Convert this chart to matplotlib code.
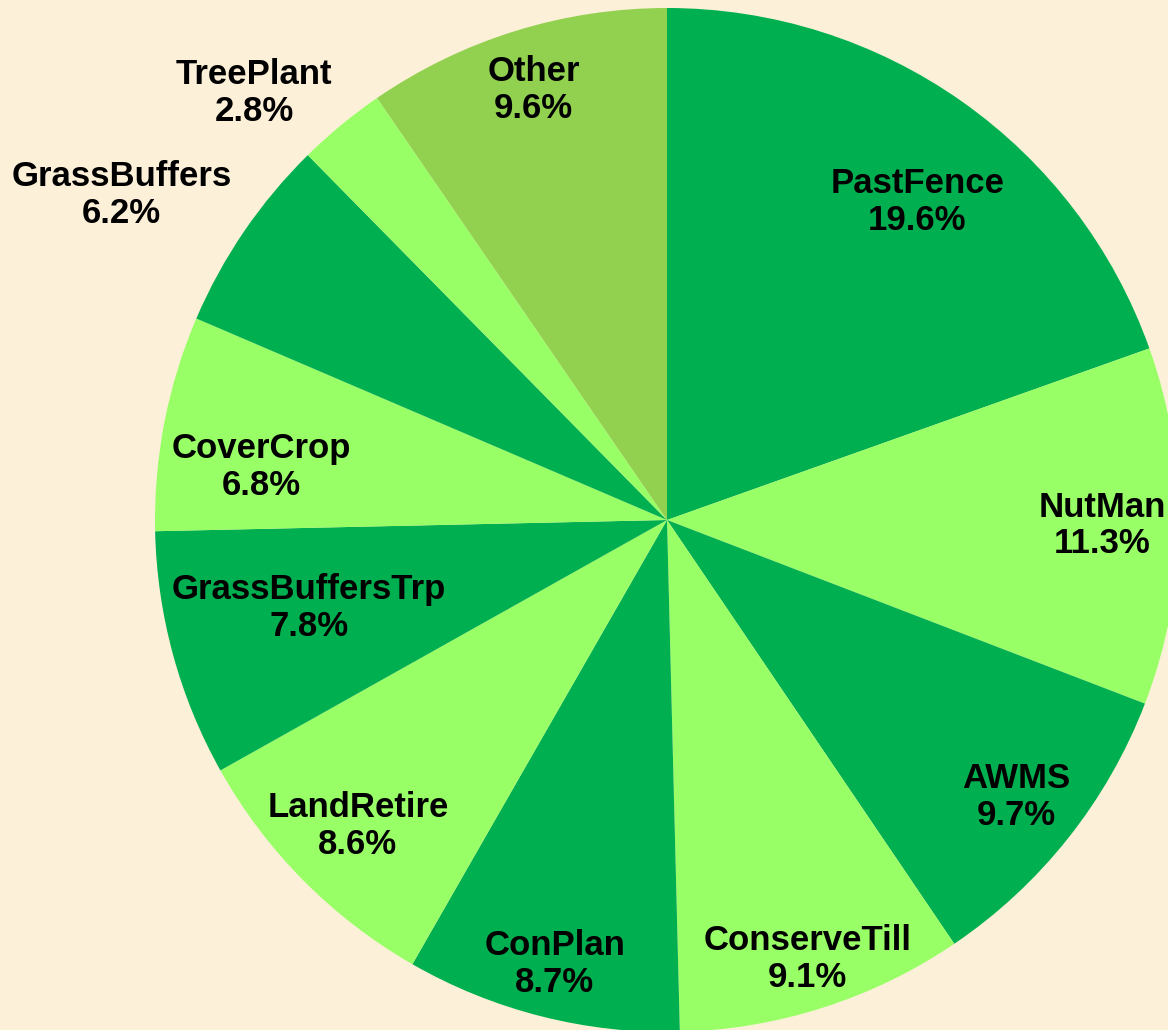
import numpy as np
import matplotlib.pyplot as plt

practices = ['PastFence', 'NutMan', 'AWMS', 'ConserveTill', 'ConPlan', 'LandRetire',
             'GrassBuffersTrp', 'CoverCrop', 'GrassBuffers', 'TreePlant', 'Other']
shares = [19.6, 11.3, 9.7, 9.1, 8.7, 8.6, 7.8, 6.8, 6.2, 2.8, 9.6]

dark = '#00B050'
light = '#99FF66'
colors = [dark, light, dark, light, dark, light, dark, light, dark, light, '#92D050']
# how far out each label sits (fraction of radius), Excel-style placement
label_r = [0.79, 0.85, 0.87, 0.90, 0.895, 0.85, 0.72, 0.80, 1.24, 1.16, 0.88]
label_shift = [-3, 0, 0, 0, 0, 0, -1.5, 3.5, 3.5, 4.5, 0]

fig = plt.figure(figsize=(11.68, 10.30), dpi=100)
fig.patch.set_facecolor('#FCF0D8')

W, H = 1168, 1030
cx, cy, R = 667, 520, 512
ax = fig.add_axes([(cx - R) / W, (H - cy - R) / H, 2 * R / W, 2 * R / H])
ax.patch.set_alpha(0)

wedges, _ = ax.pie(shares, colors=colors, startangle=90, counterclock=False,
                   radius=1, wedgeprops=dict(linewidth=0))
for w in wedges:
    w.set_clip_on(False)
ax.set_xlim(-1, 1)
ax.set_ylim(-1, 1)
ax.set_aspect('equal')
ax.axis('off')

for w, name, val, r, sh in zip(wedges, practices, shares, label_r, label_shift):
    ang = np.deg2rad((w.theta1 + w.theta2) / 2 + sh)
    ax.text(r * np.cos(ang), r * np.sin(ang), f'{name}\n{val:.1f}%',
            ha='center', va='center', fontsize=25, fontweight='bold',
            family='Liberation Sans', linespacing=1.15, clip_on=False)

fig.savefig('out.png', dpi=100, facecolor=fig.get_facecolor())
